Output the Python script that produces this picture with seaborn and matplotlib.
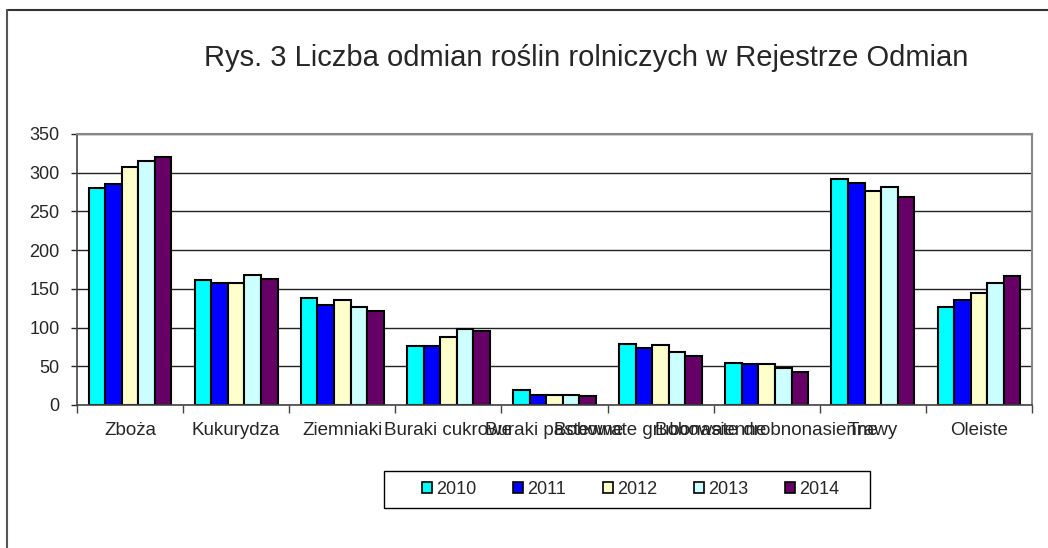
import matplotlib
matplotlib.use("Agg")
import matplotlib.pyplot as plt
import seaborn as sns
import pandas as pd
from matplotlib.patches import Patch, Rectangle
from matplotlib.lines import Line2D
from matplotlib.ticker import MultipleLocator, FixedLocator

# data
categories = ["Zboża", "Kukurydza", "Ziemniaki", "Buraki cukrowe", "Buraki pastewne",
              "Bobowate grubonasienne", "Bobowate drobnonasienne", "Trawy", "Oleiste"]
years = ["2010", "2011", "2012", "2013", "2014"]
v2010 = [280, 161, 138, 76, 19, 79, 54, 292, 127]
v2011 = [286, 158, 129, 76, 13, 74, 53, 287, 136]
v2012 = [308, 158, 136, 88, 13, 77, 53, 277, 144]
v2013 = [315, 168, 127, 98, 13, 68, 48, 281, 157]
v2014 = [320, 163, 122, 96, 12, 63, 43, 268, 166]
colors = ["#00FFFF", "#0000FF", "#FFFFCC", "#CCFFFF", "#660066"]

series = [v2010, v2011, v2012, v2013, v2014]
rows = []
for year, vals in zip(years, series):
    for cat, v in zip(categories, vals):
        rows.append({"Kategoria": cat, "Rok": year, "Liczba": v})
df = pd.DataFrame(rows)

sns.set_style("white")
plt.rcParams["font.family"] = ["Liberation Sans", "DejaVu Sans"]

fig = plt.figure(figsize=(10.48, 5.48), dpi=100)
ax = fig.add_axes([0.0735, 0.261, 0.9112, 0.4945])

sns.barplot(data=df, x="Kategoria", y="Liczba", hue="Rok", order=categories,
            hue_order=years, palette=colors, width=0.78, gap=0,
            edgecolor="black", linewidth=1.5, saturation=1, ax=ax, legend=False)

ax.set_ylim(0, 350)
ax.set_xlim(-0.5, len(categories) - 0.5)
ax.yaxis.set_major_locator(MultipleLocator(50))
ax.grid(axis="y", color="#222222", linewidth=1)
ax.set_axisbelow(True)
ax.set_xlabel("")
ax.set_ylabel("")

for side in ["top", "right"]:
    ax.spines[side].set_color("#888888")
    ax.spines[side].set_linewidth(1.5)
for side in ["left", "bottom"]:
    ax.spines[side].set_color("#444444")
    ax.spines[side].set_linewidth(1.2)

ax.tick_params(axis="y", direction="out", length=4.5, width=1, labelsize=13, pad=8, left=True)
ax.tick_params(axis="x", which="major", length=0, labelsize=13.5, pad=12)
ax.xaxis.set_minor_locator(FixedLocator([i + 0.5 for i in range(-1, len(categories))]))
ax.tick_params(axis="x", which="minor", direction="out", length=6, width=1, color="#444444", bottom=True)

fig.text(0.559, 0.895, "Rys. 3 Liczba odmian roślin rolniczych w Rejestrze Odmian",
         ha="center", va="center", fontsize=21)

handles = [Patch(facecolor=c, edgecolor="black", linewidth=1.2, label=y) for c, y in zip(colors, years)]
leg = fig.legend(handles=handles, loc="center", bbox_to_anchor=(630.5 / 1048, 1 - 489.5 / 548), ncol=5,
                 fontsize=13, handlelength=0.55, handleheight=0.55, handletextpad=0.22,
                 columnspacing=2.05, borderpad=0, frameon=False, borderaxespad=0)

# legend box drawn separately to get the wide inner padding of the original
fig.add_artist(Rectangle((384 / 1048, 1 - 508 / 548), 486 / 1048, 37 / 548, fill=False,
                         edgecolor="black", linewidth=1, transform=fig.transFigure))

# outer chart border (top and left visible)
fig.add_artist(Line2D([0.0067, 1.0], [0.9818, 0.9818], color="#333333", linewidth=1.5, transform=fig.transFigure))
fig.add_artist(Line2D([0.0067, 0.0067], [0.0, 0.9818], color="#555555", linewidth=1.5, transform=fig.transFigure))

fig.savefig("out.png", dpi=100)
